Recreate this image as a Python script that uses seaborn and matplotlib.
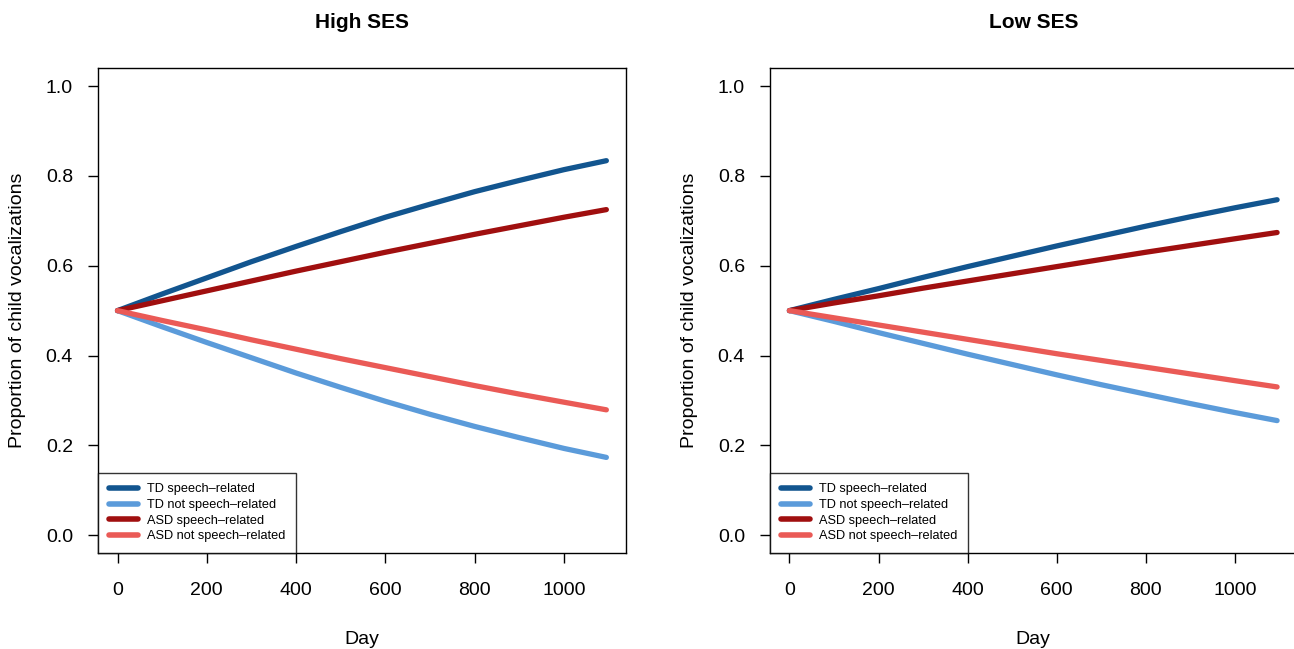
import matplotlib
matplotlib.use("Agg")
import matplotlib.pyplot as plt
import seaborn as sns
import pandas as pd

# valores (dia -> proporcion)
days = [0, 100, 200, 300, 400, 500, 600, 700, 800, 900, 1000, 1095]

high_td_speech = [0.500, 0.537, 0.573, 0.609, 0.643, 0.676, 0.708, 0.737, 0.765, 0.790, 0.814, 0.834]
high_td_not = [0.500, 0.464, 0.429, 0.395, 0.361, 0.329, 0.298, 0.269, 0.242, 0.217, 0.193, 0.173]
high_asd_speech = [0.500, 0.522, 0.544, 0.566, 0.588, 0.609, 0.630, 0.650, 0.670, 0.689, 0.708, 0.725]
high_asd_not = [0.500, 0.478, 0.457, 0.435, 0.414, 0.393, 0.373, 0.353, 0.333, 0.314, 0.296, 0.279]

low_td_speech = [0.500, 0.525, 0.549, 0.574, 0.598, 0.621, 0.644, 0.666, 0.688, 0.709, 0.729, 0.747]
low_td_not = [0.500, 0.476, 0.451, 0.427, 0.403, 0.380, 0.357, 0.335, 0.314, 0.293, 0.273, 0.255]
low_asd_speech = [0.500, 0.517, 0.533, 0.550, 0.566, 0.582, 0.598, 0.614, 0.630, 0.645, 0.660, 0.674]
low_asd_not = [0.500, 0.484, 0.468, 0.452, 0.436, 0.420, 0.404, 0.389, 0.374, 0.359, 0.344, 0.330]

groups = ["TD speech\u2013related", "TD not speech\u2013related",
          "ASD speech\u2013related", "ASD not speech\u2013related"]
colores = ["#12558F", "#5B9BDA", "#A00F0F", "#EA5A56"]
paneles = ["High SES", "Low SES"]
x_ticks = [0, 200, 400, 600, 800, 1000]
y_ticks = [0.0, 0.2, 0.4, 0.6, 0.8, 1.0]


def armar_df(series):
    filas = []
    for g, vals in zip(groups, series):
        for d, v in zip(days, vals):
            filas.append({"Day": d, "prop": v, "grupo": g})
    return pd.DataFrame(filas)


datos = {
    "High SES": armar_df([high_td_speech, high_td_not, high_asd_speech, high_asd_not]),
    "Low SES": armar_df([low_td_speech, low_td_not, low_asd_speech, low_asd_not]),
}

sns.set_style("ticks")
plt.rcParams["font.family"] = ["Liberation Sans", "DejaVu Sans"]
plt.rcParams["text.color"] = "black"
plt.rcParams["axes.labelcolor"] = "black"
plt.rcParams["xtick.color"] = "black"
plt.rcParams["ytick.color"] = "black"

fig = plt.figure(figsize=(12.94, 6.49), dpi=100)
posiciones = [[0.0757, 0.1479, 0.408, 0.747], [0.595, 0.1479, 0.407, 0.747]]

for pos, panel in zip(posiciones, paneles):
    ax = fig.add_axes(pos)
    sns.lineplot(data=datos[panel], x="Day", y="prop", hue="grupo",
                 hue_order=groups, palette=colores, linewidth=3.8,
                 solid_capstyle="round", ax=ax)
    ax.set_xlim(-43.8, 1138.8)
    ax.set_ylim(-0.04, 1.04)
    ax.set_xticks(x_ticks)
    ax.set_xticklabels([str(t) for t in x_ticks])
    ax.set_yticks(y_ticks)
    ax.set_yticklabels([f"{t:.1f}" for t in y_ticks])
    ax.tick_params(axis="x", labelsize=14, length=7, width=1, pad=14)
    ax.tick_params(axis="y", labelsize=14, length=7, width=1, pad=11)
    for s in ax.spines.values():
        s.set_visible(True)
        s.set_color("black")
        s.set_linewidth(1)
    ax.set_title(panel, fontsize=15, fontweight="bold", pad=29)
    ax.set_xlabel("Day", fontsize=14, labelpad=23)
    ax.set_ylabel("Proportion of child vocalizations", fontsize=14, labelpad=14)

    leg = ax.legend(loc="lower left", fontsize=9.2, frameon=True, fancybox=False,
                    borderaxespad=0, handlelength=2.3, handletextpad=0.7,
                    labelspacing=0.28, borderpad=0.85)
    leg.get_frame().set_edgecolor("black")
    leg.get_frame().set_linewidth(1)
    for linea in leg.get_lines():
        linea.set_linewidth(4)
        linea.set_solid_capstyle("round")

fig.savefig("out.png", dpi=100)
